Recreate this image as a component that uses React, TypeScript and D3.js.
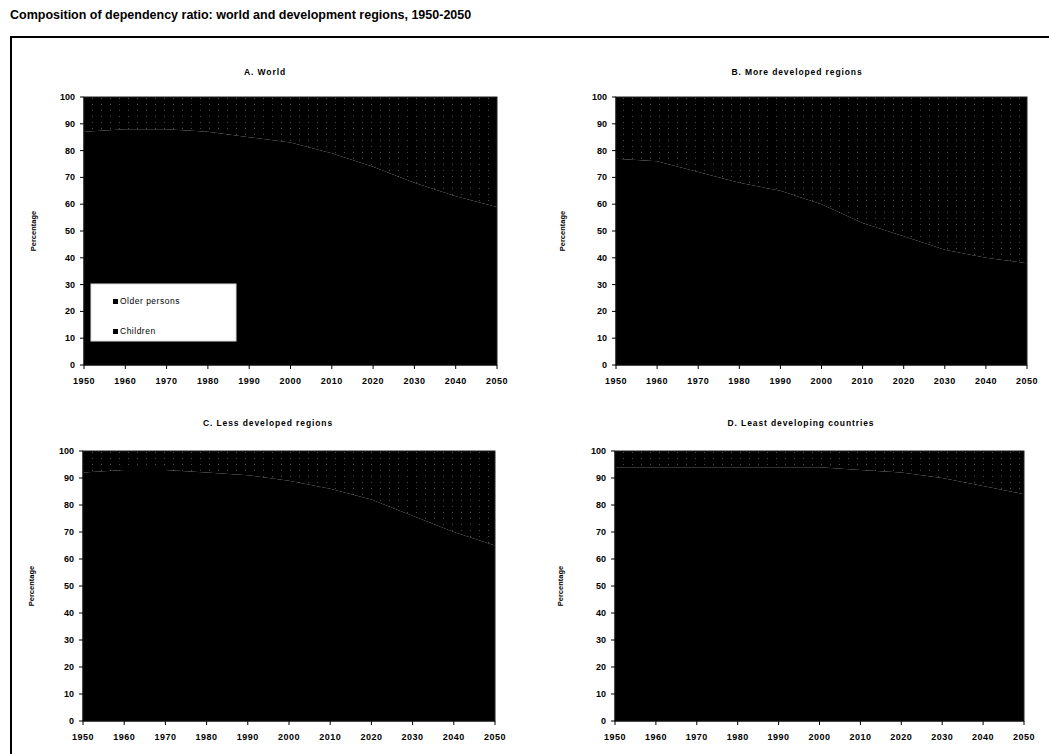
import React from 'react';
import * as d3 from 'd3';

// years on the x axis (10-year steps)
const years = [1950, 1960, 1970, 1980, 1990, 2000, 2010, 2020, 2030, 2040, 2050];
const yTicks = [0, 10, 20, 30, 40, 50, 60, 70, 80, 90, 100];

// share of children in the total dependency ratio (percent); older persons = 100 - children
const worldChildren = [87, 88, 88, 87, 85, 83, 79, 74, 68, 63, 59];
const moreDevChildren = [77, 76, 72, 68, 65, 60, 53, 48, 43, 40, 38];
const lessDevChildren = [92, 93, 93, 92, 91, 89, 86, 82, 76, 70, 65];
const leastDevChildren = [94, 94, 94, 94, 94, 94, 93, 92, 90, 87, 84];

const seriesNames = ['Older persons', 'Children'];

const panels = [
  { title: 'A. World', children: worldChildren, box: { l: 84, r: 497, t: 97, b: 365 }, titleX: 265, titleY: 75, labelX: 36, legend: true },
  { title: 'B. More developed regions', children: moreDevChildren, box: { l: 616, r: 1027, t: 97, b: 365 }, titleX: 797, titleY: 75, labelX: 565, legend: false },
  { title: 'C. Less developed regions', children: lessDevChildren, box: { l: 83, r: 495, t: 451, b: 721 }, titleX: 268, titleY: 426, labelX: 34, legend: false },
  { title: 'D. Least developing countries', children: leastDevChildren, box: { l: 615, r: 1024, t: 451, b: 721 }, titleX: 801, titleY: 426, labelX: 563, legend: false },
];

const font = '"Liberation Sans", Arial, sans-serif';

const Panel = ({ p, idx }) => {
  const { l, r, t, b } = p.box;
  const x = d3.scaleLinear().domain([1950, 2050]).range([l, r]);
  const y = d3.scaleLinear().domain([0, 100]).range([b, t]);
  const rows = years.map((yr, i) => ({ year: yr, children: p.children[i], older: 100 - p.children[i] }));
  const stack = d3.stack().keys(['children', 'older'])(rows);
  const area = d3
    .area()
    .x((d) => x(d.data.year))
    .y0((d) => y(d[0]))
    .y1((d) => y(d[1]));

  return (
    <g>
      <text x={p.titleX} y={p.titleY} textAnchor="middle" fontSize={8.5} fontWeight="bold" fontFamily={font} letterSpacing={0.9}>
        {p.title}
      </text>
      {/* children at the bottom, older persons stacked on top */}
      <path d={area(stack[0])} fill="#000" />
      <path d={area(stack[1])} fill={`url(#dots${idx})`} />
      <rect x={l} y={t} width={r - l} height={b - t} fill="none" stroke="#222" strokeWidth={1} />
      {/* y axis */}
      <line x1={l} x2={l} y1={t} y2={b} stroke="#000" />
      {yTicks.map((v) => (
        <g key={v}>
          <line x1={l - 4} x2={l} y1={y(v)} y2={y(v)} stroke="#000" />
          <text x={l - 9} y={y(v) + 3} textAnchor="end" fontSize={9} fontWeight="bold" fontFamily={font}>
            {v}
          </text>
        </g>
      ))}
      {/* x axis */}
      <line x1={l} x2={r} y1={b} y2={b} stroke="#000" />
      {years.map((v) => (
        <g key={v}>
          <line x1={x(v)} x2={x(v)} y1={b} y2={b + 4} stroke="#000" />
          <text x={x(v)} y={b + 19} textAnchor="middle" fontSize={9} fontWeight="bold" fontFamily={font} letterSpacing={0.5}>
            {v}
          </text>
        </g>
      ))}
      <text
        transform={`translate(${p.labelX},${(t + b) / 2}) rotate(-90)`}
        textAnchor="middle"
        fontSize={7.5}
        fontWeight="bold"
        fontFamily={font}
      >
        Percentage
      </text>
      {p.legend && (
        <g>
          <rect x={l + 7} y={b - 81} width={145} height={57} fill="#fff" stroke="#ddd" />
          {seriesNames.map((s, i) => (
            <g key={s}>
              <rect x={l + 29} y={b - 66 + i * 30} width={5} height={5} fill="#000" />
              <text x={l + 36} y={b - 61 + i * 30} fontSize={8.5} fontFamily={font} letterSpacing={0.5}>
                {s}
              </text>
            </g>
          ))}
        </g>
      )}
    </g>
  );
};

export default function App() {
  return (
    <svg width={1049} height={754} style={{ position: 'absolute', left: 0, top: 0, background: '#fff' }}>
      <defs>
        {panels.map((p, i) => (
          <pattern key={i} id={`dots${i}`} width={9} height={6} patternUnits="userSpaceOnUse">
            <rect width={9} height={6} fill="#000" />
            <rect x={2} y={2} width={1} height={1} fill="#4a4a4a" />
          </pattern>
        ))}
      </defs>
      <text x={10} y={19} fontSize={12.5} fontWeight="bold" fontFamily={font}>
        Composition of dependency ratio: world and development regions, 1950-2050
      </text>
      <polyline points="11,754 11,37 1049,37" fill="none" stroke="#000" strokeWidth={2} />
      {panels.map((p, i) => (
        <Panel key={p.title} p={p} idx={i} />
      ))}
    </svg>
  );
}
